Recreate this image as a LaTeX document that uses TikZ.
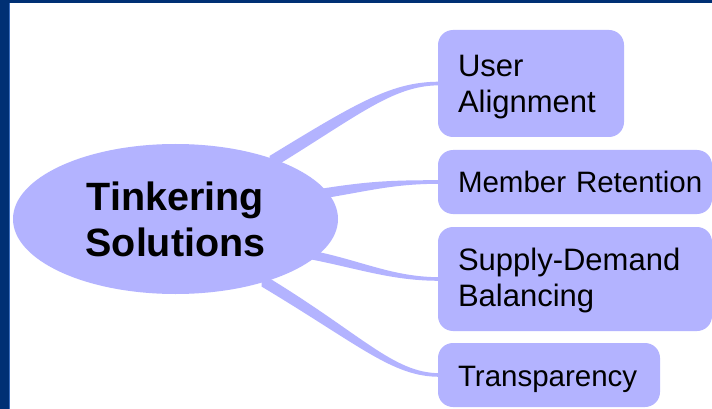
\documentclass[tikz,border=0pt]{standalone}
\usepackage{fontspec}
\setsansfont{Liberation Sans}
\definecolor{MapBlue}{RGB}{179,179,255}
\definecolor{FrameBlue}{RGB}{0,48,116}
\definecolor{FrameEdge}{RGB}{60,110,190}
\usetikzlibrary{shapes,backgrounds,calc}
\tikzset{
	topic/.style={
		ellipse,fill=MapBlue,inner sep=0pt,align=center,
		font=\sffamily\bfseries\fontsize{39.5}{46}\selectfont},
	idea/.style={
		rectangle,rounded corners=15pt,fill=MapBlue,align=left,
		inner xsep=20pt,inner ysep=0pt,
		font=\sffamily\fontsize{29.5}{36}\selectfont},
	bigidea/.style={idea,font=\sffamily\fontsize{31}{36.5}\selectfont},
	twig/.style={fill=MapBlue}
}
% tapered branch: offset from root, target node, half width, start control
\def\branch#1#2#3#4{
	\fill[twig] ($(root.center)+(#1)+(0,#3)$)
		.. controls ($(root.center)+(#1)+(#4)+(0,#3)$) and ($(#2.west)+(-45,1.8)$) .. ($(#2.west)+(2,1.8)$)
		-- ($(#2.west)+(2,-1.8)$)
		.. controls ($(#2.west)+(-45,-1.8)$) and ($(root.center)+(#1)+(#4)+(0,-#3)$) .. ($(root.center)+(#1)+(0,-#3)$) -- cycle;}

\begin{document}
\begin{tikzpicture}[x=1pt,y=-1pt]
	\useasboundingbox (0,0) rectangle (712,409);
	\begin{pgfonlayer}{background}
		\fill[FrameBlue] (0,0) rectangle (712,409);
		\fill[white] (9.5,3.5) rectangle (712,409);
		\draw[FrameEdge,line width=1pt] (9,3.5) -- (9,409);
	\end{pgfonlayer}
	\node[topic,minimum width=325pt,minimum height=150pt] (root) at (175.5,219) {Tinkering\\Solutions};
	\node[bigidea,text width=146pt,text height=28pt,minimum height=107pt] (align) at (531,83.5) {User\\Alignment};
	\node[idea,text width=234pt,minimum height=64pt] (retain) at (575,182) {\mbox{Member Retention}};
	\node[bigidea,text width=234pt,text height=25pt,minimum height=104pt] (balance) at (575,279) {Supply-Demand\\Balancing};
	\node[idea,text width=182pt,text height=30pt,minimum height=64pt] (clear) at (549,375) {Transparency};
	\begin{pgfonlayer}{background}
		\branch{94,-56}{align}{7}{90,-55}
		\branch{144,-25}{retain}{5}{50,-8}
		\branch{136,36}{balance}{4.5}{50,10}
		\branch{86,61}{clear}{6.5}{100,60}
	\end{pgfonlayer}
\end{tikzpicture}
\end{document}
